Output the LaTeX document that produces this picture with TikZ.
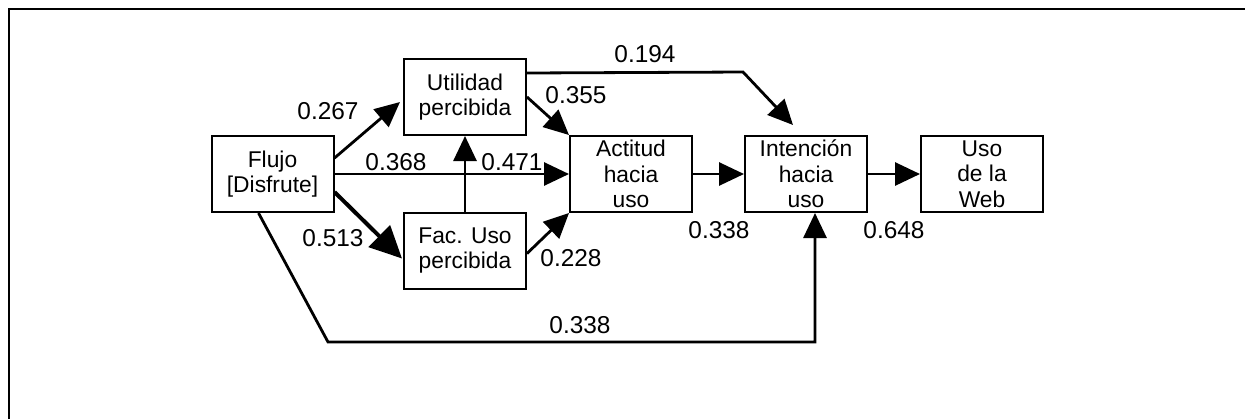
\documentclass[tikz,border=0pt]{standalone}
\usepackage{fontspec}
\setmainfont{Liberation Sans}
\usetikzlibrary{arrows.meta,calc}
\begin{document}
\begin{tikzpicture}[x=0.5pt,y=-0.5pt,
  box/.style={draw,line width=1pt,minimum width=61pt,minimum height=38pt,inner sep=0pt,align=center,font=\fontsize{11.4}{12.8}\selectfont},
  conn/.style={line width=1.4pt,-{Triangle[length=12.5pt,width=11.5pt]}},
  bigconn/.style={line width=2pt,-{Triangle[length=16pt,width=15pt]}},
  lbl/.style={font=\fontsize{12.2}{14}\selectfont,inner sep=0pt}]
\useasboundingbox (0,0) rectangle (1245,419);
% partial frame
\draw[line width=1pt] (9,419) -- (9,9) -- (1245,9);
% boxes
\node[box] (flujo) at (272.5,174) {Flujo\\{[}Disfrute{]}};
\node[box] (util) at (465,97) {Utilidad\\percibida};
\node[box] (fac) at (465,250.5) {Fac. Uso\\percibida};
\node[box] (act) at (631,174) {Actitud\\hacia\\uso};
\node[box] (int) at (806,174) {Intención\\hacia\\uso};
\node[box] (uso) at (982,174) {Uso\\de la\\Web};
% connectors
\draw[conn] ($(flujo.east)+(0,-16)$) -- ($(util.west)+(-3,5)$);
\draw[conn] (flujo.east) -- (act.west);
\draw[bigconn] ($(flujo.east)+(0,18)$) -- ($(fac.west)+(-1,8)$);
\draw[conn] (fac.north) -- (util.south);
\draw[conn] (util.east) -- (act.north west);
\draw[conn] ($(fac.east)+(0,3)$) -- (act.south west);
\coordinate (k1) at ($(int.north)+(-63,-63)$);
\coordinate (t1) at ($(int.north)+(-13,-10)$);
\draw[conn] ($(util.east)+(0,-24)$) -- (k1) -- (t1);
\draw[conn] (act.east) -- (int.west);
\draw[conn] (int.east) -- (uso.west);
\coordinate (c1) at (328,342);
\coordinate (t2) at ($(int.south)+(9,0)$);
\draw[conn] ($(flujo.south)+(-14,0)$) -- (c1) -- (c1 -| t2) -- (t2);
% labels
\node[lbl] (l267) at (328,111) {0.267};
\node[lbl] (l368) at (396,162) {0.368};
\node[lbl] (l471) at (512,162) {0.471};
\node[lbl] (l513) at (333,238) {0.513};
\node[lbl] (l355) at (576,95) {0.355};
\node[lbl] (l228) at (571,258) {0.228};
\node[lbl] (l194) at (645,54) {0.194};
\node[lbl] (l338a) at (719,230) {0.338};
\node[lbl] (l648) at (894,230) {0.648};
\node[lbl] (l338b) at (580,325) {0.338};
\end{tikzpicture}
\end{document}
